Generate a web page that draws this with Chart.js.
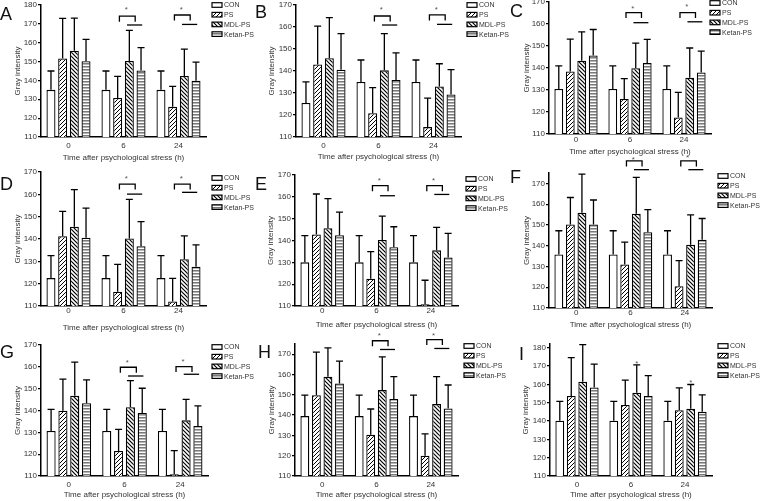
<!DOCTYPE html>
<html>
<head>
<meta charset="utf-8">
<script src="https://cdn.jsdelivr.net/npm/chart.js@4.4.0/dist/chart.umd.min.js"></script>
<style>
  html, body { margin: 0; padding: 0; background: #fff; }
  #wrap { position: relative; width: 765px; height: 501px; overflow: hidden; background: #fff; }
  #wrap canvas { position: absolute; }
</style>
</head>
<body>
<div id="wrap"></div>
<script>
const times = ['0', '6', '24'];
const groups = ['CON', 'PS', 'MDL-PS', 'Ketan-PS'];

// rows = CON, PS, MDL-PS, Ketan-PS ; cols = 0h, 6h, 24h
const A_mean = [[135, 135, 135], [151.6, 130.7, 126], [155.7, 150.3, 142.4], [150.2, 145.3, 139.8]];
const A_err  = [[145, 145, 145], [172.9, 142.2, 136.8], [173, 166.5, 156.6], [161.8, 157.4, 149.7]];
const A_y = [110, 180];
const A_sig = [null, [174.1, 169.4, 178.7], [174.7, 169.7, 178.7]];

const B_mean = [[125.5, 135, 135], [143, 120.8, 114.5], [145.8, 140.3, 133], [140.6, 135.9, 129.3]];
const B_err  = [[135.1, 145, 145], [160.4, 132.4, 127.7], [164.3, 157, 143.3], [157, 148.2, 140.6]];
const B_y = [110, 170];
const B_sig = [null, [165, 160.9, 168.9], [165.5, 161.2, 168.9]];

const C_mean = [[130.5, 130.5, 130.5], [138.4, 125.9, 117.5], [143.3, 139.9, 135.6], [145.7, 142.3, 138]];
const C_err  = [[141, 141, 141], [153.1, 135.2, 128.9], [156.4, 151.3, 149.1], [157.5, 153, 147.7]];
const C_y = [110, 170];
const C_sig = [null, [165.2, 160.6, 167.9], [165.2, 161, 168.6]];

const D_mean = [[122.5, 122.5, 122.5], [141.2, 116.4, 112], [145.5, 140.2, 130.9], [140.6, 136.8, 127.6]];
const D_err  = [[132.6, 132.6, 132.6], [152.4, 128.6, 122.4], [162.1, 157.7, 141.4], [153.8, 147.8, 137.4]];
const D_y = [110, 170];
const D_sig = [null, [164.6, 160.1, 167.8], [164.6, 160.9, 167.8]];

const E_mean = [[130, 130, 130], [142.8, 122.5, 110.8], [145.6, 140.2, 135.5], [142.4, 136.9, 132.2]];
const E_err  = [[142.2, 142.2, 142.2], [161.3, 134.9, 121.8], [159.2, 151.2, 146], [153, 146.3, 143.3]];
const E_y = [110, 170];
const E_sig = [null, [165.1, 160.5, 168.2], [165.1, 161.1, 168.2]];

const F_mean = [[135.8, 135.8, 135.8], [150.2, 131, 120.5], [155.9, 155.4, 140.5], [150.2, 146.5, 142.9]];
const F_err  = [[147.2, 147.2, 147.2], [163.2, 141.7, 132.8], [174.5, 172.9, 154.8], [162, 157.4, 153.1]];
const F_y = [110, 175];
const F_sig = [null, [180.8, 176.6, 182.5], [180.8, 176.6, 183.3]];

const G_mean = [[130.6, 130.6, 130.6], [139.9, 121.5, 110.8], [146.8, 141.5, 135.5], [143.3, 138.9, 132.9]];
const G_err  = [[140.5, 140.5, 140.5], [154.4, 131.4, 121.6], [162.2, 153.7, 145.1], [154, 150.2, 142.1]];
const G_y = [110, 170];
const G_sig = [null, [159.8, 155.8, 162.8], [160.1, 156.6, 163.4]];

const H_mean = [[139.5, 139.5, 139.5], [149.8, 130.3, 120], [158.9, 152.3, 145.4], [155.6, 147.9, 143.3]];
const H_err  = [[149.8, 149.8, 149.8], [171, 143, 130.7], [173.1, 168.7, 158.9], [166.6, 158.9, 154.8]];
const H_y = [110, 175];
const H_sig = [null, [176.6, 172.3, 179.8], [177.2, 172.8, 179.8]];

const I_mean = [[140.2, 140.2, 140.2], [153.7, 148.7, 145.9], [161.4, 155.4, 146.7], [158.3, 153.7, 145]];
const I_err  = [[150.7, 150.7, 150.7], [174.6, 162.3, 158.1], [181.7, 170.6, 159.9], [171, 164.8, 154.3]];
const I_y = [110, 182];
const I_sig = [null, [null, null, 172.2], [null, null, 161.9]];

const FONT = "'Liberation Sans', Arial, sans-serif";
const TXT = '#333';
const OY = 15, CW = 255, CH = 185;

// fill patterns
function makePattern(kind) {
  const c = document.createElement('canvas');
  const x = c.getContext('2d');
  if (kind === 'h') {
    c.width = 4; c.height = 3;
    x.fillStyle = '#fff'; x.fillRect(0, 0, 4, 3);
    x.fillStyle = '#7a7a7a'; x.fillRect(0, 0, 4, 1);
    x.fillStyle = '#b5b5b5'; x.fillRect(0, 1, 4, 1);
  } else {
    const s = 4;
    c.width = s; c.height = s;
    x.fillStyle = '#fff'; x.fillRect(0, 0, s, s);
    x.strokeStyle = '#000';
    x.lineWidth = kind === 'b' ? 1.2 : 1;
    x.beginPath();
    if (kind === 'f') {
      x.moveTo(-1, s + 1); x.lineTo(s + 1, -1);
      x.moveTo(-1, 1); x.lineTo(1, -1);
      x.moveTo(s - 1, s + 1); x.lineTo(s + 1, s - 1);
    } else {
      x.moveTo(-1, -1); x.lineTo(s + 1, s + 1);
      x.moveTo(s - 1, -1); x.lineTo(s + 1, 1);
      x.moveTo(-1, s - 1); x.lineTo(1, s + 1);
    }
    x.stroke();
  }
  return x.createPattern(c, 'repeat');
}
const fills = ['#ffffff', makePattern('f'), makePattern('b'), makePattern('h')];

const panels = [
  { id: 'A', px: 0,   py: 0,   mean: A_mean, err: A_err, y: A_y, sig: A_sig, L: 41, R: 206, T: 5,  B: 137, tickY: 146, titleY: 158, yTitleX: 18, leg: [212, 5],  letter: [0, 20] },
  { id: 'B', px: 255, py: 0,   mean: B_mean, err: B_err, y: B_y, sig: B_sig, L: 41, R: 206, T: 5,  B: 137, tickY: 146, titleY: 157, yTitleX: 17, leg: [212, 5],  letter: [0, 18] },
  { id: 'C', px: 510, py: 0,   mean: C_mean, err: C_err, y: C_y, sig: C_sig, L: 39, R: 201, T: 2,  B: 134, tickY: 140, titleY: 152, yTitleX: 17, leg: [200, 3],  letter: [0, 17] },
  { id: 'D', px: 0,   py: 165, mean: D_mean, err: D_err, y: D_y, sig: D_sig, L: 41, R: 206, T: 7,  B: 141, tickY: 146, titleY: 163, yTitleX: 18, leg: [212, 13], letter: [0, 25] },
  { id: 'E', px: 255, py: 165, mean: E_mean, err: E_err, y: E_y, sig: E_sig, L: 40, R: 203, T: 10, B: 141, tickY: 146, titleY: 160, yTitleX: 16, leg: [211, 14], letter: [0, 25] },
  { id: 'F', px: 510, py: 165, mean: F_mean, err: F_err, y: F_y, sig: F_sig, L: 39, R: 202, T: 8,  B: 143, tickY: 148, titleY: 160, yTitleX: 17, leg: [208, 11], letter: [0, 18] },
  { id: 'G', px: 0,   py: 330, mean: G_mean, err: G_err, y: G_y, sig: G_sig, L: 41, R: 208, T: 15, B: 146, tickY: 155, titleY: 165, yTitleX: 18, leg: [212, 17], letter: [0, 28] },
  { id: 'H', px: 255, py: 330, mean: H_mean, err: H_err, y: H_y, sig: H_sig, L: 40, R: 203, T: 14, B: 146, tickY: 155, titleY: 165, yTitleX: 17, leg: [209, 16], letter: [3, 28] },
  { id: 'I', px: 510, py: 330, mean: I_mean, err: I_err, y: I_y, sig: I_sig, L: 40, R: 202, T: 14, B: 146, tickY: 155, titleY: 165, yTitleX: 16, leg: [208, 16], letter: [9, 30] }
];

// error bars, significance brackets, legend and panel letter
function extras(p) {
  return {
    id: 'extras' + p.id,
    afterDatasetsDraw(chart) {
      const ctx = chart.ctx;
      const ys = chart.scales.y;
      ctx.save();
      ctx.strokeStyle = '#000';
      ctx.lineWidth = 1.3;
      chart.data.datasets.forEach((ds, i) => {
        chart.getDatasetMeta(i).data.forEach((bar, j) => {
          const yTop = ys.getPixelForValue(p.err[i][j]);
          ctx.beginPath();
          ctx.moveTo(bar.x, bar.y);
          ctx.lineTo(bar.x, yTop);
          ctx.moveTo(bar.x - 3.5, yTop);
          ctx.lineTo(bar.x + 3.5, yTop);
          ctx.stroke();
        });
      });

      const m = [0, 1, 2, 3].map(i => chart.getDatasetMeta(i).data);
      const step = m[1][0].x - m[0][0].x;
      ctx.font = '8px ' + FONT;
      ctx.textAlign = 'center';
      ctx.textBaseline = 'middle';
      p.sig.forEach((s, j) => {
        if (!s) return;
        const xPS = m[1][j].x, xMDL = m[2][j].x, xK = m[3][j].x;
        if (s[0] !== null) {
          const x1 = xPS + 0.15 * step, x2 = xMDL + 0.5 * step;
          const yb = ys.getPixelForValue(s[0]);
          ctx.beginPath();
          ctx.moveTo(x1, yb + 5.5);
          ctx.lineTo(x1, yb);
          ctx.lineTo(x2, yb);
          ctx.lineTo(x2, yb + 5.5);
          ctx.stroke();
          const yl = ys.getPixelForValue(s[1]);
          ctx.beginPath();
          ctx.moveTo(xMDL - 0.2 * step, yl);
          ctx.lineTo(xK + 0.1 * step, yl);
          ctx.stroke();
          ctx.fillStyle = '#555';
          ctx.fillText('*', (x1 + x2) / 2 - 1, ys.getPixelForValue(s[2]) + 2);
        } else {
          ctx.fillStyle = '#555';
          ctx.fillText('*', xMDL, ys.getPixelForValue(s[2]) + 2);
        }
      });

      // legend
      ctx.textAlign = 'left';
      ctx.font = '7px ' + FONT;
      groups.forEach((g, i) => {
        const bx = p.leg[0], by = p.leg[1] + OY + i * 9.7;
        ctx.fillStyle = fills[i];
        ctx.fillRect(bx, by - 2.3, 10, 4.6);
        ctx.lineWidth = 1.2;
        ctx.strokeRect(bx, by - 2.3, 10, 4.6);
        ctx.fillStyle = TXT;
        ctx.fillText(g, bx + 12, by + 0.5);
      });

      // letter
      ctx.fillStyle = '#111';
      ctx.font = '18px ' + FONT;
      ctx.textBaseline = 'alphabetic';
      ctx.fillText(p.id, p.letter[0], p.letter[1] + OY);
      ctx.restore();
    }
  };
}

const wrap = document.getElementById('wrap');
Chart.defaults.font.family = FONT;

panels.forEach(p => {
  const c = document.createElement('canvas');
  c.width = CW;
  c.height = CH;
  c.style.left = p.px + 'px';
  c.style.top = (p.py - OY) + 'px';
  wrap.appendChild(c);
  const lh = 8 * 1.2;

  new Chart(c, {
    type: 'bar',
    data: {
      labels: times,
      datasets: groups.map((g, i) => ({
        label: g,
        data: p.mean[i],
        backgroundColor: fills[i],
        borderColor: '#000',
        borderWidth: 1.3,
        borderSkipped: 'start',
        categoryPercentage: 0.85,
        barPercentage: 0.77
      }))
    },
    options: {
      responsive: false,
      animation: false,
      devicePixelRatio: 1,
      layout: { padding: { left: 0, right: CW - p.R, top: p.T + OY, bottom: 0 } },
      plugins: { legend: { display: false }, tooltip: { enabled: false } },
      scales: {
        x: {
          grid: { display: false, drawTicks: false },
          border: { color: '#000', width: 1.5 },
          ticks: { color: TXT, font: { size: 8 }, padding: p.tickY - lh / 2 - p.B, maxRotation: 0 },
          title: {
            display: true, text: 'Time after psychological stress (h)', color: TXT, font: { size: 8 },
            padding: { top: 0, bottom: CH - (p.titleY + OY) - lh / 2 }
          },
          afterFit(s) { s.height = CH - (p.B + OY); s.paddingLeft = 0; s.paddingRight = 0; }
        },
        y: {
          min: p.y[0],
          max: p.y[1],
          ticks: { stepSize: 10, color: TXT, font: { size: 8 }, padding: 1, includeBounds: false },
          grid: { drawOnChartArea: false, color: '#000', tickLength: 3, lineWidth: 1.2 },
          border: { color: '#000', width: 1.5 },
          title: {
            display: true, text: 'Gray intensity', color: TXT, font: { size: 8 },
            padding: { top: p.yTitleX - lh / 2, bottom: 0 }
          },
          afterFit(s) { s.width = p.L; s.paddingTop = 0; s.paddingBottom = 0; }
        }
      }
    },
    plugins: [extras(p)]
  });
});
</script>
</body>
</html>
